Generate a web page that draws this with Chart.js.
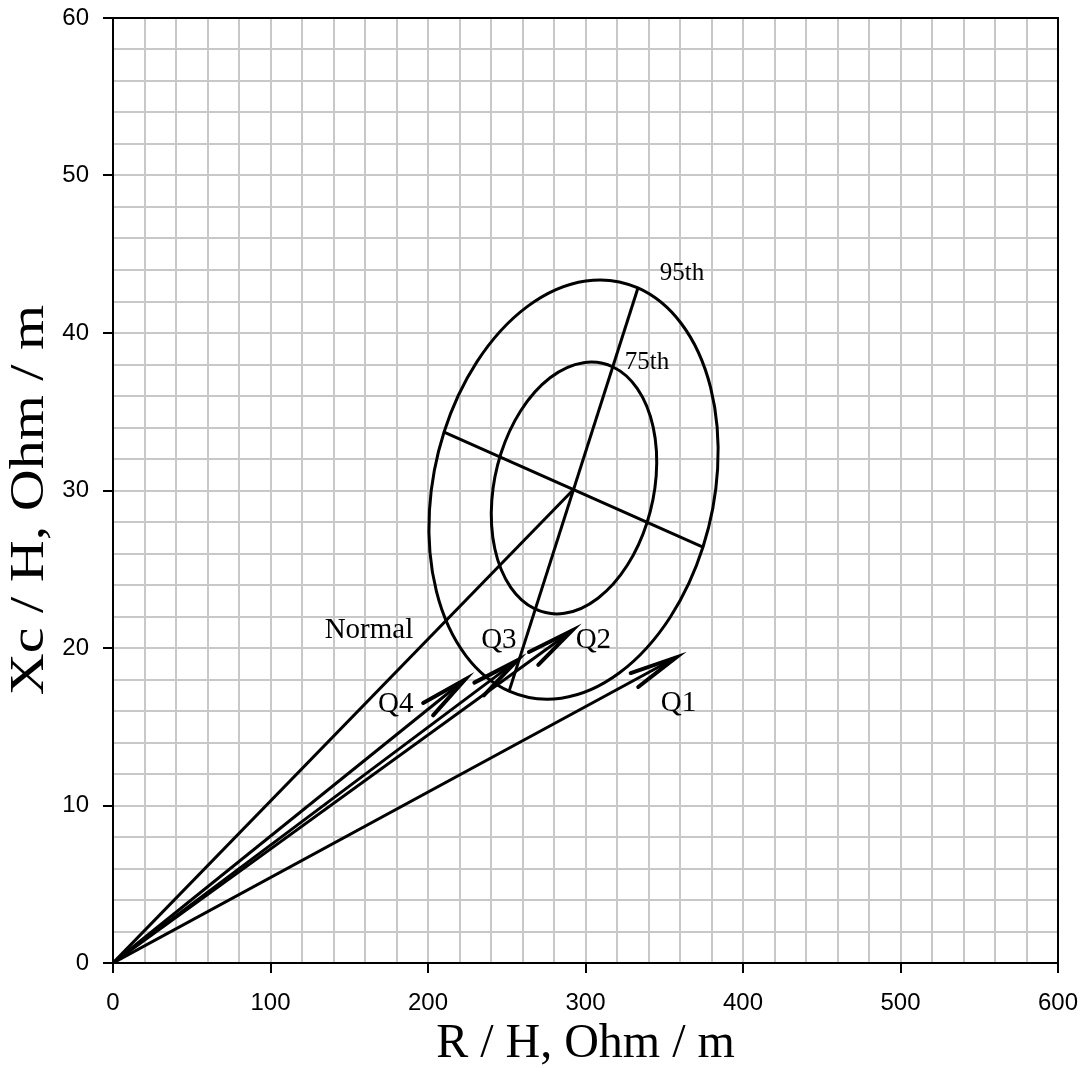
<!DOCTYPE html>
<html>
<head>
<meta charset="utf-8">
<script src="https://cdn.jsdelivr.net/npm/chart.js"></script>
<style>
html, body { margin: 0; padding: 0; background: #fff; }
#wrap { width: 1081px; height: 1068px; }
</style>
</head>
<body>
<div id="wrap"><canvas id="c" width="1081" height="1068"></canvas></div>
<script>
// impedance vectors (arrow tips)
const vecNames = ['Q1', 'Q2', 'Q3', 'Q4'];
const vecR = [357.5, 291.4, 256.5, 223.5];
const vecXc = [19.4, 21.1, 19.2, 18.0];

// mean ("Normal") vector
const normalR = 292.4;
const normalXc = 30.06;

// tolerance ellipses: centre, end of semi-major axis, end of semi-minor axis
const ellNames = ['95th', '75th'];
const ellCenterR = [292.4, 292.7];
const ellCenterXc = [30.06, 30.16];
const ellMajorR = [333.3, 317.5];
const ellMajorXc = [42.86, 37.84];
const ellMinorR = [374.6, 339.0];
const ellMinorXc = [26.41, 27.94];

// tick labels
const xTickLabels = [0, 100, 200, 300, 400, 500, 600];
const yTickLabels = [0, 10, 20, 30, 40, 50, 60];

const xTitle = 'R / H, Ohm / m';
const yTitle = 'Xc / H, Ohm / m';

// text placed on the plot (data units)
const notes = [
    { text: ellNames[0], r: 361.3, xc: 43.8, size: 25 },
    { text: ellNames[1], r: 339.0, xc: 38.1, size: 25 },
    { text: 'Normal', r: 162.5, xc: 21.1, size: 29 },
    { text: vecNames[0], r: 359.0, xc: 16.5, size: 29 },
    { text: vecNames[1], r: 305.0, xc: 20.5, size: 29 },
    { text: vecNames[2], r: 245.0, xc: 20.5, size: 29 },
    { text: vecNames[3], r: 179.5, xc: 16.4, size: 29 }
];

const SERIF = '"Liberation Serif", "Times New Roman", serif';
const SANS = '"Liberation Sans", Arial, sans-serif';

function seg(a, b) {
    return { data: [a, b], borderColor: '#000', borderWidth: 3, pointRadius: 0, showLine: true, fill: false };
}

const datasets = [];
datasets.push(seg({ x: 0, y: 0 }, { x: normalR, y: normalXc }));
vecR.forEach((r, i) => {
    const d = seg({ x: 0, y: 0 }, { x: r, y: vecXc[i] });
    d.label = vecNames[i];
    d.arrow = true;
    datasets.push(d);
});
// axes of the 95th ellipse
datasets.push(seg({ x: 2 * ellCenterR[0] - ellMajorR[0], y: 2 * ellCenterXc[0] - ellMajorXc[0] },
                  { x: ellMajorR[0], y: ellMajorXc[0] }));
datasets.push(seg({ x: 2 * ellCenterR[0] - ellMinorR[0], y: 2 * ellCenterXc[0] - ellMinorXc[0] },
                  { x: ellMinorR[0], y: ellMinorXc[0] }));

const extras = {
    id: 'extras',
    afterDatasetsDraw(chart) {
        const ctx = chart.ctx, sx = chart.scales.x, sy = chart.scales.y;
        const P = (r, xc) => ({ x: sx.getPixelForValue(r), y: sy.getPixelForValue(xc) });
        ctx.save();
        ctx.strokeStyle = '#000';

        // ellipses: unit circle mapped onto the two semi-axes
        ellNames.forEach((n, i) => {
            const c = P(ellCenterR[i], ellCenterXc[i]);
            const a = P(ellMajorR[i], ellMajorXc[i]);
            const b = P(ellMinorR[i], ellMinorXc[i]);
            ctx.save();
            ctx.beginPath();
            ctx.transform(a.x - c.x, a.y - c.y, b.x - c.x, b.y - c.y, c.x, c.y);
            ctx.arc(0, 0, 1, 0, Math.PI * 2);
            ctx.restore();
            ctx.lineWidth = 3;
            ctx.stroke();
        });

        // open arrow heads
        ctx.lineWidth = 4;
        ctx.lineCap = 'round';
        chart.data.datasets.forEach(ds => {
            if (!ds.arrow) return;
            const o = P(ds.data[0].x, ds.data[0].y);
            const t = P(ds.data[1].x, ds.data[1].y);
            const ang = Math.atan2(o.y - t.y, o.x - t.x);
            const len = 48, spread = 9.5 * Math.PI / 180;
            ctx.beginPath();
            ctx.moveTo(t.x + len * Math.cos(ang + spread), t.y + len * Math.sin(ang + spread));
            ctx.lineTo(t.x, t.y);
            ctx.lineTo(t.x + len * Math.cos(ang - spread), t.y + len * Math.sin(ang - spread));
            ctx.stroke();
        });

        // labels
        ctx.fillStyle = '#000';
        ctx.textAlign = 'center';
        ctx.textBaseline = 'middle';
        notes.forEach(n => {
            const p = P(n.r, n.xc);
            ctx.font = n.size + 'px ' + SERIF;
            ctx.fillText(n.text, p.x, p.y);
        });
        ctx.restore();
    },
    afterDraw(chart) {
        const ctx = chart.ctx, a = chart.chartArea;
        ctx.save();
        // top and right frame
        ctx.strokeStyle = '#000';
        ctx.lineWidth = 2;
        ctx.beginPath();
        ctx.moveTo(a.left, a.top);
        ctx.lineTo(a.right, a.top);
        ctx.lineTo(a.right, a.bottom);
        ctx.stroke();
        // y title (stretched along its run like the original)
        ctx.fillStyle = '#000';
        ctx.translate(43, 500);
        ctx.rotate(-Math.PI / 2);
        ctx.scale(1.21, 1);
        ctx.font = '48px ' + SERIF;
        ctx.textAlign = 'center';
        ctx.textBaseline = 'alphabetic';
        ctx.fillText(yTitle, 0, 0);
        ctx.restore();
    }
};

const majorTick = labels => c => (c.tick && labels.includes(Math.round(c.tick.value))) ? '#000' : 'rgba(0,0,0,0)';

new Chart(document.getElementById('c'), {
    type: 'scatter',
    data: { datasets },
    options: {
        responsive: false,
        animation: false,
        layout: { padding: { top: 18, right: 23, left: 0, bottom: 0 } },
        plugins: { legend: { display: false }, tooltip: { enabled: false } },
        scales: {
            x: {
                type: 'linear', min: 0, max: 600,
                ticks: {
                    stepSize: 20, autoSkip: false, maxRotation: 0, padding: 16, color: '#000',
                    font: { family: SANS, size: 24 },
                    callback: v => xTickLabels.includes(Math.round(v)) ? String(Math.round(v)) : ''
                },
                grid: { color: '#c8c8c8', lineWidth: 2, tickLength: 10, tickWidth: 2, tickColor: majorTick(xTickLabels) },
                border: { color: '#000', width: 2 },
                title: { display: true, text: xTitle, color: '#000', padding: 0, font: { family: SERIF, size: 48, lineHeight: 1 } },
                afterFit: s => { s.height = 105; s.paddingLeft = 0; s.paddingRight = 0; }
            },
            y: {
                type: 'linear', min: 0, max: 60,
                ticks: {
                    stepSize: 2, autoSkip: false, padding: 14, color: '#000',
                    font: { family: SANS, size: 24 },
                    callback: v => yTickLabels.includes(Math.round(v)) ? String(Math.round(v)) : ''
                },
                grid: { color: '#c8c8c8', lineWidth: 2, tickLength: 10, tickWidth: 2, tickColor: majorTick(yTickLabels) },
                border: { color: '#000', width: 2 },
                afterFit: s => { s.width = 113; s.paddingTop = 0; s.paddingBottom = 0; }
            }
        }
    },
    plugins: [extras]
});
</script>
</body>
</html>
